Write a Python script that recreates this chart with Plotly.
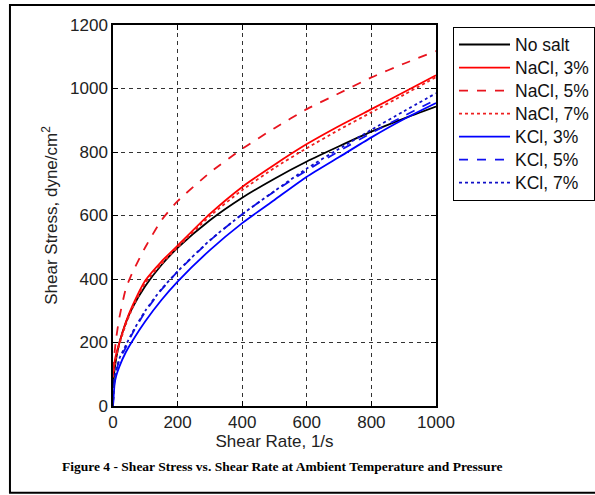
import plotly.graph_objects as go

shear_rate = [0, 5, 10, 20, 40, 60, 100, 150, 200, 300, 400, 500, 600, 700, 800, 900, 1000]

no_salt = [60, 115, 150, 200, 263, 309, 378, 444, 498, 585, 656, 716, 770, 818, 864, 905, 943]
nacl_3 = [100, 140, 165, 200, 265, 315, 395, 455, 505, 605, 690, 760, 825, 882, 935, 988, 1042]
nacl_5 = [110, 170, 215, 280, 370, 420, 500, 585, 645, 735, 810, 875, 935, 985, 1035, 1078, 1118]
nacl_7 = [90, 130, 155, 195, 258, 308, 388, 448, 500, 598, 680, 750, 812, 870, 925, 980, 1036]
kcl_3 = [0, 70, 95, 125, 170, 205, 267, 334, 392, 491, 576, 649, 722, 784, 846, 903, 954]
kcl_5 = [0, 85, 110, 145, 185, 228, 297, 366, 423, 521, 604, 676, 742, 803, 860, 913, 965]
kcl_7 = [0, 90, 115, 150, 192, 232, 300, 368, 424, 522, 604, 677, 748, 810, 870, 928, 985]

series = [
    ("No salt", no_salt, "black", "solid"),
    ("NaCl, 3%", nacl_3, "#ff0000", "solid"),
    ("NaCl, 5%", nacl_5, "#e8141e", "dash"),
    ("NaCl, 7%", nacl_7, "#ee2020", "dot"),
    ("KCl, 3%", kcl_3, "#0000ff", "solid"),
    ("KCl, 5%", kcl_5, "#1010f0", "dash"),
    ("KCl, 7%", kcl_7, "#1010c8", "dot"),
]

x_ticks = [0, 200, 400, 600, 800, 1000]
y_ticks = [0, 200, 400, 600, 800, 1000, 1200]

fig = go.Figure()
for name, vals, color, dash in series:
    fig.add_trace(go.Scatter(
        x=shear_rate, y=vals, name='<span style="font-size:17.5px">' + name + '</span>', mode="lines",
        line=dict(color=color, dash=dash, width=1.8, shape="spline", smoothing=0.6),
    ))

font = "Liberation Sans, Arial, sans-serif"
axis_common = dict(
    showline=True, linecolor="black", linewidth=1.5, mirror="ticks",
    ticks="inside", ticklen=5, tickcolor="black",
    showgrid=True, gridcolor="#333333", gridwidth=1, griddash="4px,4px",
    zeroline=False, automargin=False,
    tickfont=dict(family=font, size=17, color="#222222"),
)

fig.update_xaxes(range=[0, 1000], tickvals=x_ticks,
                 title=dict(text="Shear Rate, 1/s", font=dict(family=font, size=17, color="#222222"), standoff=4),
                 **axis_common)
fig.update_yaxes(range=[0, 1200], tickvals=y_ticks,
                 title=dict(text="Shear Stress, dyne/cm<sup>2</sup>", font=dict(family=font, size=17, color="#222222"), standoff=8),
                 **axis_common)

fig.update_layout(
    width=595, height=495,
    margin=dict(l=113, r=159, t=25, b=89, autoexpand=False),
    paper_bgcolor="white", plot_bgcolor="white",
    legend=dict(
        xref="container", yref="container",
        x=453 / 595, y=1 - 27 / 495, xanchor="left", yanchor="top",
        bordercolor="black", borderwidth=1, bgcolor="white",
        font=dict(family=font, size=15.4, color="#111111"),
        tracegroupgap=0, itemwidth=51,
    ),
    shapes=[dict(type="rect", xref="paper", yref="paper",
                 x0=-0.319, x1=1.50, y0=-0.228, y1=1.0525,
                 line=dict(color="black", width=2))],
    annotations=[dict(
        text="<b>Figure 4 - Shear Stress vs. Shear Rate at Ambient Temperature and Pressure</b>",
        xref="paper", yref="paper", x=0.522, y=-0.16, xanchor="center", yanchor="middle",
        showarrow=False, font=dict(family="Liberation Serif, Times New Roman, serif", size=13.5, color="black"),
    )],
)

fig.write_html("out.html", config={"displayModeBar": False},
               post_script="document.body.style.margin='0px';")
